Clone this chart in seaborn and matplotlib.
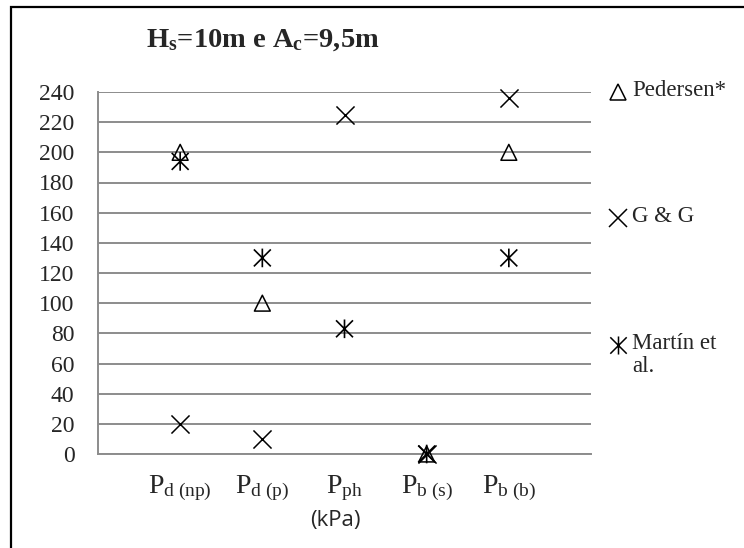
import numpy as np
import pandas as pd
import matplotlib
matplotlib.use("Agg")
import matplotlib.pyplot as plt
from matplotlib.path import Path
from matplotlib.lines import Line2D
from matplotlib.patches import Rectangle
import seaborn as sns

# dados
categorias = [r"$\mathrm{P_{d\ (np)}}$", r"$\mathrm{P_{d\ (p)}}$", r"$\mathrm{P_{ph}}$",
              r"$\mathrm{P_{b\ (s)}}$", r"$\mathrm{P_{b\ (b)}}$"]
posicoes = [1, 2, 3, 4, 5]
pedersen = [200, 100, np.nan, 0, 200]
g_and_g = [20, 10, 225, 0, 236]
martin = [194, 130, 83, 0, 130]
yticks = list(range(0, 241, 20))

sns.set_style("white")
plt.rcParams["font.family"] = ["Liberation Serif", "DejaVu Serif"]
plt.rcParams["mathtext.fontset"] = "custom"
plt.rcParams["mathtext.rm"] = "Liberation Serif"
plt.rcParams["mathtext.it"] = "Liberation Serif:italic"
plt.rcParams["mathtext.bf"] = "Liberation Serif:bold"

W, H = 744, 548
fig = plt.figure(figsize=(W / 100, H / 100), dpi=100)
ax = fig.add_axes([98 / W, 1 - 454 / H, (591 - 98) / W, (454 - 92) / H])

# asterisco: X com traço vertical
asterisco = Path([(-0.5, -0.5), (0.5, 0.5), (-0.5, 0.5), (0.5, -0.5), (0, -0.55), (0, 0.55)],
                 [Path.MOVETO, Path.LINETO, Path.MOVETO, Path.LINETO, Path.MOVETO, Path.LINETO])

df = pd.DataFrame({"pos": posicoes, "ped": pedersen, "gg": g_and_g, "mar": martin})
sns.scatterplot(data=df, x="pos", y="ped", marker="^", s=130, facecolor="none",
                edgecolor="black", linewidth=1.1, ax=ax, clip_on=False, zorder=3)
sns.scatterplot(data=df, x="pos", y="gg", marker="x", s=170, color="black",
                linewidth=1.1, ax=ax, clip_on=False, zorder=3)
sns.scatterplot(data=df, x="pos", y="mar", marker=asterisco, s=180, facecolor="none",
                edgecolor="black", linewidth=1.2, ax=ax, clip_on=False, zorder=3)

ax.set_xlim(0, 6)
ax.set_ylim(0, 240)
ax.set_yticks(yticks)
ax.set_yticklabels([str(v) for v in yticks], fontsize=17)
ax.grid(axis="y", color="#8c8c8c", linewidth=1.4)
ax.set_axisbelow(True)

ax.xaxis.remove_overlapping_locs = False
ax.set_xticks([0, 2, 4, 6])
ax.set_xticklabels([])
ax.set_xticks(posicoes, minor=True)
ax.set_xticklabels(categorias, minor=True, fontsize=20)
ax.tick_params(axis="x", which="minor", length=0, pad=14)
ax.tick_params(axis="both", which="major", direction="out", length=6,
               width=1.4, color="#8c8c8c", pad=11)
ax.tick_params(axis="x", which="major", pad=0)

for s in ["top", "right"]:
    ax.spines[s].set_visible(False)
for s in ["left", "bottom"]:
    ax.spines[s].set_color("#8c8c8c")
    ax.spines[s].set_linewidth(1.4)

ax.set_ylabel("")
ax.set_xlabel("(kPa)", fontsize=16, family="Open Sans")
ax.xaxis.set_label_coords((335 - 98) / 493, -0.155)

# título
fig.text(263 / W, 1 - 40 / H, r"$\mathbf{H_s}$=10m e $\mathbf{A_c}$=9,5m",
         ha="center", va="center", fontsize=20.5, fontweight="bold")

# legenda manual
entradas = [("^", "Pedersen*", 92), ("x", "G & G", 218), (asterisco, "Martín et\nal.", 345)]
for mk, txt, yc in entradas:
    if mk == "^":
        h = Line2D([618 / W], [1 - yc / H], marker=mk, markersize=11, markerfacecolor="none",
                   markeredgecolor="black", markeredgewidth=1.1, linestyle="none",
                   transform=fig.transFigure)
    else:
        h = Line2D([618 / W], [1 - yc / H], marker=mk, markersize=13, color="black",
                   markerfacecolor="none", markeredgewidth=1.1, linestyle="none",
                   transform=fig.transFigure)
    fig.add_artist(h)
    fig.text(632 / W, 1 - (yc - 12) / H, txt, ha="left", va="top", fontsize=16.5,
             linespacing=1.15)

# moldura do gráfico
fig.add_artist(Rectangle((10.5 / W, -0.2), 2, 1.2 - 6.5 / H, transform=fig.transFigure,
                         fill=False, edgecolor="black", linewidth=1.6))

fig.savefig("out.png", dpi=100)
